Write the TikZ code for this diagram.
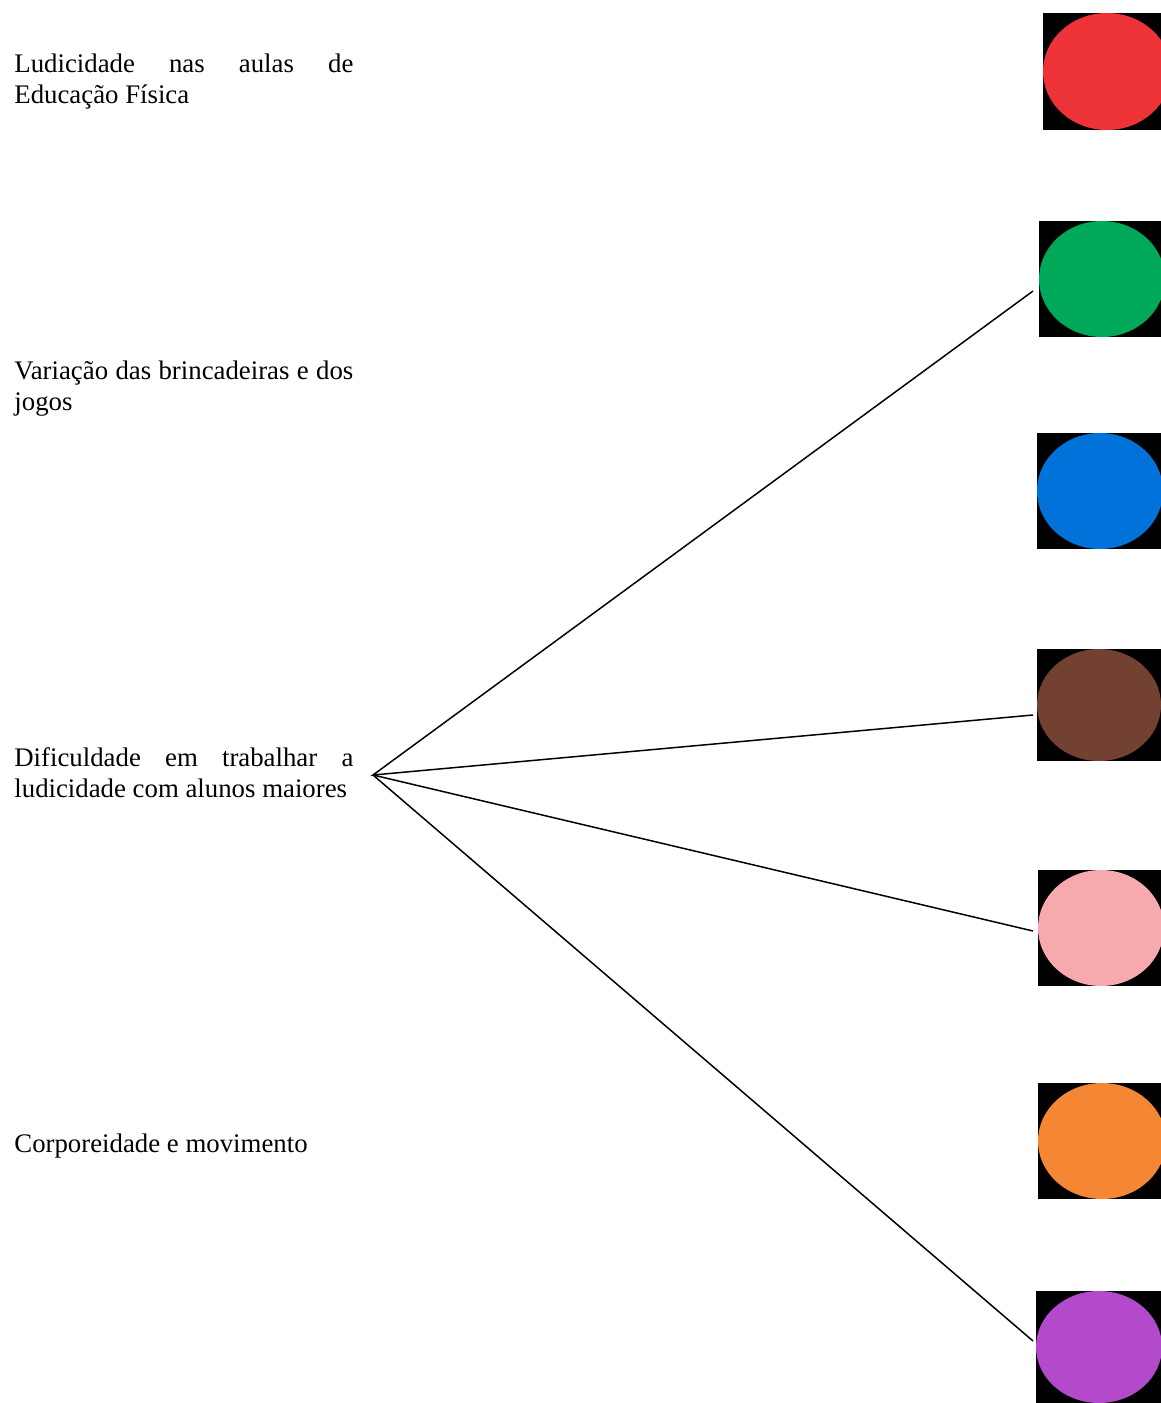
\documentclass[tikz,border=0pt]{standalone}
\usepackage{fontspec}
\setmainfont{Liberation Serif}
\usetikzlibrary{shapes.geometric}
\definecolor{cred}{RGB}{238,51,56}
\definecolor{cgreen}{RGB}{0,168,89}
\definecolor{cblue}{RGB}{0,114,218}
\definecolor{cbrown}{RGB}{114,65,50}
\definecolor{cpink}{RGB}{247,170,174}
\definecolor{corange}{RGB}{245,134,52}
\definecolor{cpurple}{RGB}{178,74,203}
\tikzset{
  lbl/.style={anchor=base west, inner sep=0pt, text width=169.5pt, align=justify,
    font=\fontsize{13.4pt}{15.5pt}\selectfont},
  dot/.style={ellipse, inner sep=0pt, draw=none},
  conn/.style={line width=0.75pt, black},
}
\begin{document}
\begin{tikzpicture}[x=0.5pt,y=-0.5pt]
\useasboundingbox (0,0) rectangle (1161,1403);
\begin{scope}
\clip (0,0) rectangle (1161,1403);
% black backgrounds
\fill[black] (1043,13) rectangle (1161,130);
\fill[black] (1039,221) rectangle (1161,337);
\fill[black] (1037,433) rectangle (1161,549);
\fill[black] (1037,649) rectangle (1161,761);
\fill[black] (1038,870) rectangle (1161,986);
\fill[black] (1038,1083) rectangle (1161,1199);
\fill[black] (1036,1291) rectangle (1161,1403);
% coloured ellipses
\node[dot, fill=cred, minimum width=64pt, minimum height=58.5pt] (red) at (1107,71.5) {};
\node[dot, fill=cgreen, minimum width=63pt, minimum height=58pt] (green) at (1102,279) {};
\node[dot, fill=cblue, minimum width=63pt, minimum height=58pt] (blue) at (1100,491) {};
\node[dot, fill=cbrown, minimum width=62pt, minimum height=56pt] (brown) at (1099,705) {};
\node[dot, fill=cpink, minimum width=63pt, minimum height=58pt] (pink) at (1101,928) {};
\node[dot, fill=corange, minimum width=64pt, minimum height=58pt] (orange) at (1102,1141) {};
\node[dot, fill=cpurple, minimum width=63pt, minimum height=56pt] (purple) at (1099,1347) {};
\end{scope}
% labels
\node[lbl] (t1) at (14,72) {Ludicidade nas aulas de\linebreak Educação Física};
\node[lbl] (t2) at (14,379) {Variação das brincadeiras e dos\linebreak jogos};
\node[lbl] (t3) at (14,766) {Dificuldade em trabalhar a\linebreak ludicidade com alunos maiores};
\node[lbl] (t4) at (14,1152) {Corporeidade e movimento};
% connectors
\coordinate (hub) at (373,775);
\coordinate (eg) at (1033,291);
\coordinate (eb) at (1033,715);
\coordinate (ep) at (1033,931);
\coordinate (eu) at (1033,1341);
\draw[conn] (eg) -- (hub) -- (eb);
\draw[conn] (hub) -- (ep);
\draw[conn] (hub) -- (eu);
\end{tikzpicture}
\end{document}
